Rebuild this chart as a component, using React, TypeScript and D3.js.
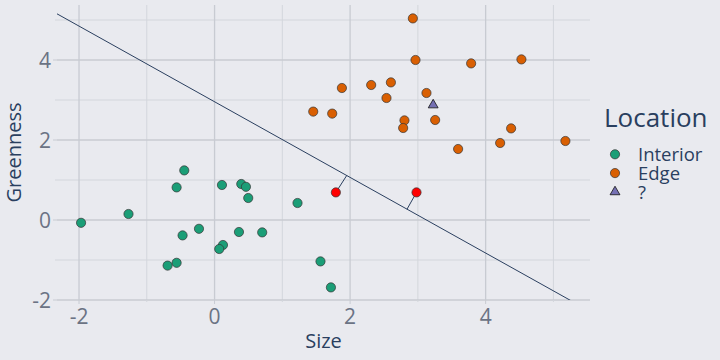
import React from "react";
import * as d3 from "d3";

const interiorX = [-1.97, -1.27, -0.447, -0.56, 0.109, 0.394, 0.463, 0.497, 1.224, -0.472, -0.23, 0.36, 0.703, 0.124, 0.069, -0.56, -0.693, 1.563, 1.717];
const interiorY = [-0.07, 0.15, 1.24, 0.815, 0.875, 0.9, 0.83, 0.55, 0.425, -0.385, -0.22, -0.3, -0.31, -0.625, -0.725, -1.07, -1.14, -1.035, -1.685];

const edgeX = [2.926, 2.965, 3.786, 4.528, 1.879, 2.311, 2.602, 2.537, 3.127, 1.456, 1.736, 2.802, 2.783, 3.255, 4.376, 4.214, 3.594, 5.177];
const edgeY = [5.04, 4.0, 3.915, 4.015, 3.3, 3.375, 3.44, 3.05, 3.175, 2.71, 2.66, 2.49, 2.3, 2.5, 2.29, 1.925, 1.775, 1.975];

const unknownX = [3.226];
const unknownY = [2.875];

const redX = [1.79, 2.98];
const redY = [0.69, 0.69];
const footX = [1.95, 2.84];

const lineSlope = -0.9455;
const lineIntercept = 2.956;

const xTicks = [-2, 0, 2, 4];
const yTicks = [-2, 0, 2, 4];
const xMinor = [-1, 1, 3, 5];
const yMinor = [-1, 1, 3, 5];

const legendLabels = ["Interior", "Edge", "?"];
const legendColors = ["#1b9e77", "#d95f02", "#7570b3"];

const W = 720;
const H = 360;
const left = 57;
const right = 590;
const top = 5;
const bottom = 300;

export default function App() {
  const x = d3.scaleLinear().domain([-2.325, 5.54]).range([left, right]);
  const y = d3.scaleLinear().domain([-2, 5.375]).range([bottom, top]);
  const font = "'Open Sans', 'Noto Sans', sans-serif";
  const bg = "#e9eaef";
  const tickColor = "#6b7384";
  const titleColor = "#2a3f5f";
  const lineFn = (v: number) => lineSlope * v + lineIntercept;
  const lx = d3.line<number>().x((d) => x(d)).y((d) => y(lineFn(d)));
  const tri = d3.symbol().type(d3.symbolTriangle).size(42)();

  return (
    <div style={{ position: "fixed", left: 0, top: 0, width: W, height: H, background: bg }}>
      <svg width={W} height={H} style={{ display: "block" }} fontFamily={font}>
        <rect x={0} y={0} width={W} height={H} fill={bg} />
        <defs>
          <clipPath id="plotclip">
            <rect x={left} y={top} width={right - left} height={bottom - top} />
          </clipPath>
        </defs>
        {xMinor.filter((v) => x(v) <= right).map((v) => (
          <line key={"xm" + v} x1={x(v)} x2={x(v)} y1={top} y2={bottom} stroke="#d3d6dc" strokeWidth={1} />
        ))}
        {yMinor.map((v) => (
          <line key={"ym" + v} x1={left} x2={right} y1={y(v)} y2={y(v)} stroke="#d3d6dc" strokeWidth={1} />
        ))}
        {xTicks.map((v) => (
          <line key={"xg" + v} x1={x(v)} x2={x(v)} y1={top} y2={bottom} stroke="#c8cbd2" strokeWidth={1.3} />
        ))}
        {yTicks.map((v) => (
          <line key={"yg" + v} x1={left} x2={right} y1={y(v)} y2={y(v)} stroke="#c8cbd2" strokeWidth={1.6} />
        ))}
        {xTicks.map((v) => (
          <line key={"xt" + v} x1={x(v)} x2={x(v)} y1={bottom} y2={bottom + 4} stroke="#c8cbd2" strokeWidth={1} />
        ))}
        {xMinor.filter((v) => x(v) <= right).map((v) => (
          <line key={"xmt" + v} x1={x(v)} x2={x(v)} y1={bottom} y2={bottom + 2} stroke="#d3d6dc" strokeWidth={1} />
        ))}
        {yTicks.map((v) => (
          <line key={"yt" + v} x1={left - 4} x2={left} y1={y(v)} y2={y(v)} stroke="#c8cbd2" strokeWidth={1} />
        ))}
        {yMinor.map((v) => (
          <line key={"ymt" + v} x1={left - 2} x2={left} y1={y(v)} y2={y(v)} stroke="#d3d6dc" strokeWidth={1} />
        ))}
        {xTicks.map((v) => (
          <text key={"xl" + v} x={x(v)} y={324} textAnchor="middle" fontSize={21} fill={tickColor}>
            {v < 0 ? "-" + Math.abs(v) : String(v)}
          </text>
        ))}
        {yTicks.map((v) => (
          <text key={"yl" + v} x={51} y={y(v) + 7.5} textAnchor="end" fontSize={21} fill={tickColor}>
            {v < 0 ? "-" + Math.abs(v) : String(v)}
          </text>
        ))}
        <text x={(left + right) / 2} y={348} textAnchor="middle" fontSize={20} fill={titleColor}>
          Size
        </text>
        <text
          transform={`translate(21,${(top + bottom) / 2}) rotate(-90)`}
          textAnchor="middle"
          fontSize={20}
          fill={titleColor}
        >
          Greenness
        </text>
        <g clipPath="url(#plotclip)">
          <path d={lx([-2.325, 5.54]) || ""} fill="none" stroke="#2a3f5f" strokeWidth={1} />
          {redX.map((v, i) => (
            <line
              key={"seg" + i}
              x1={x(v)}
              y1={y(redY[i])}
              x2={x(footX[i])}
              y2={y(lineFn(footX[i]))}
              stroke="#2a3f5f"
              strokeWidth={1}
            />
          ))}
          {interiorX.map((v, i) => (
            <circle key={"i" + i} cx={x(v)} cy={y(interiorY[i])} r={4.6} fill={legendColors[0]} stroke="#333" strokeWidth={0.7} />
          ))}
          {edgeX.map((v, i) => (
            <circle key={"e" + i} cx={x(v)} cy={y(edgeY[i])} r={4.6} fill={legendColors[1]} stroke="#333" strokeWidth={0.7} />
          ))}
          {unknownX.map((v, i) => (
            <path
              key={"u" + i}
              d={tri || ""}
              transform={`translate(${x(v)},${y(unknownY[i])})`}
              fill={legendColors[2]}
              stroke="#111"
              strokeWidth={0.8}
            />
          ))}
          {redX.map((v, i) => (
            <circle key={"r" + i} cx={x(v)} cy={y(redY[i])} r={4.6} fill="#ff0000" stroke="#333" strokeWidth={0.7} />
          ))}
        </g>
        <text x={604} y={127} fontSize={26} fill={titleColor}>
          Location
        </text>
        {legendLabels.map((lab, i) => (
          <g key={"lg" + i} transform={`translate(0,${154.3 + i * 18.8})`}>
            {i < 2 ? (
              <circle cx={615} cy={0} r={4.6} fill={legendColors[i]} stroke="#333" strokeWidth={0.7} />
            ) : (
              <path d={tri || ""} transform="translate(615,0)" fill={legendColors[2]} stroke="#111" strokeWidth={0.8} />
            )}
            <text x={638} y={7} fontSize={18.5} fill={titleColor}>
              {lab}
            </text>
          </g>
        ))}
      </svg>
    </div>
  );
}
